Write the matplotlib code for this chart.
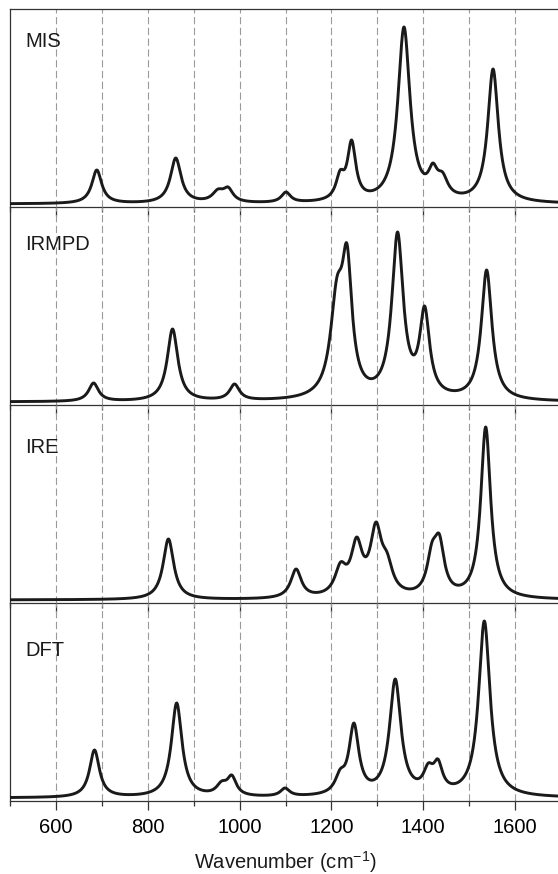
import numpy as np
import matplotlib
import matplotlib.pyplot as plt
from matplotlib.ticker import MultipleLocator

matplotlib.use('Agg')

plt.rcParams['font.family'] = ['Liberation Sans', 'DejaVu Sans']
plt.rcParams['mathtext.default'] = 'regular'

# bandas: centro (cm-1), altura de la curva, semiancho
nombres = ['MIS', 'IRMPD', 'IRE', 'DFT']

mis_centros = [689, 861, 953, 975, 1101, 1219, 1244, 1358, 1421, 1442, 1552]
mis_alturas = [34, 46, 15, 17, 12, 34, 64, 177, 41, 32, 135]
mis_anchos = [13, 14, 15, 13, 12, 11, 11, 16, 12, 14, 14]

irmpd_centros = [682, 854, 989, 1212, 1234, 1344, 1403, 1538]
irmpd_alturas = [19, 73, 18, 125, 158, 170, 96, 132]
irmpd_anchos = [13, 14, 13, 17, 13, 15, 13, 14]

ire_centros = [845, 1123, 1220, 1255, 1297, 1321, 1419, 1435, 1536]
ire_alturas = [61, 31, 38, 63, 78, 48, 58, 66, 173]
ire_anchos = [14, 14, 15, 15, 15, 15, 13, 13, 13]

dft_centros = [684, 863, 961, 983, 1099, 1219, 1249, 1339, 1411, 1432, 1533]
dft_alturas = [48, 95, 17, 23, 10, 29, 75, 119, 35, 39, 177]
dft_anchos = [13, 14, 14, 12, 12, 13, 13, 15, 13, 12, 15]

espectros = [
    (mis_centros, mis_alturas, mis_anchos),
    (irmpd_centros, irmpd_alturas, irmpd_anchos),
    (ire_centros, ire_alturas, ire_anchos),
    (dft_centros, dft_alturas, dft_anchos),
]

# posicion vertical de cada etiqueta (fraccion del panel)
etiqueta_y = [0.808, 0.783, 0.758, 0.732]


def lorentz(x, c, w):
    return w ** 2 / ((x - c) ** 2 + w ** 2)


def espectro(x, centros, alturas, anchos):
    c = np.array(centros, float)
    w = np.array(anchos, float)
    # amplitudes tales que la suma pase por las alturas leidas
    m = lorentz(c[:, None], c[None, :], w[None, :])
    amp = np.linalg.solve(m, np.array(alturas, float))
    return (amp[None, :] * lorentz(x[:, None], c[None, :], w[None, :])).sum(axis=1)


x = np.linspace(500, 1700, 2400)

W, H = 558, 874
fig = plt.figure(figsize=(W / 100, H / 100), dpi=100)

top = 9
alto = 198
axes = []
for i, (nombre, datos) in enumerate(zip(nombres, espectros)):
    y0 = top + (i + 1) * alto
    ax = fig.add_axes([10 / W, 1 - y0 / H, 551 / W, alto / H])
    ax.set_facecolor('none')
    ax.plot(x, espectro(x, *datos), color='#1a1a1a', lw=2.1, solid_capstyle='round', zorder=3)
    for g in range(600, 1700, 100):
        ax.axvline(g, color='#9a9a9a', lw=0.8, dashes=(6.5, 3.2), zorder=1)
    ax.set_xlim(500, 1700)
    ax.set_ylim(-3, 195)
    ax.set_yticks([])
    ax.spines['right'].set_visible(False)
    if i > 0:
        ax.spines['top'].set_visible(False)
    for s in ['left', 'top', 'bottom']:
        ax.spines[s].set_linewidth(0.9)
        ax.spines[s].set_color('#333333')
    ax.xaxis.set_major_locator(MultipleLocator(200))
    ax.xaxis.set_minor_locator(MultipleLocator(100))
    ax.tick_params(axis='x', which='major', direction='out', length=6.5, width=0.9,
                   color='#333333', labelsize=14.5, pad=5.5)
    ax.tick_params(axis='x', which='minor', direction='out', length=3.5, width=0.9,
                   color='#333333')
    ax.text(533, -3 + etiqueta_y[i] * alto, nombre, fontsize=14.5, color='#1a1a1a',
            va='baseline', ha='left')
    if i < 3:
        ax.tick_params(axis='x', labelbottom=False)
    axes.append(ax)

axes[-1].set_xticks(range(600, 1700, 200))
axes[-1].set_xlabel('Wavenumber (cm$^{-1}$)', fontsize=14.5, labelpad=9, color='#1a1a1a')

fig.savefig('out.png', dpi=100)
